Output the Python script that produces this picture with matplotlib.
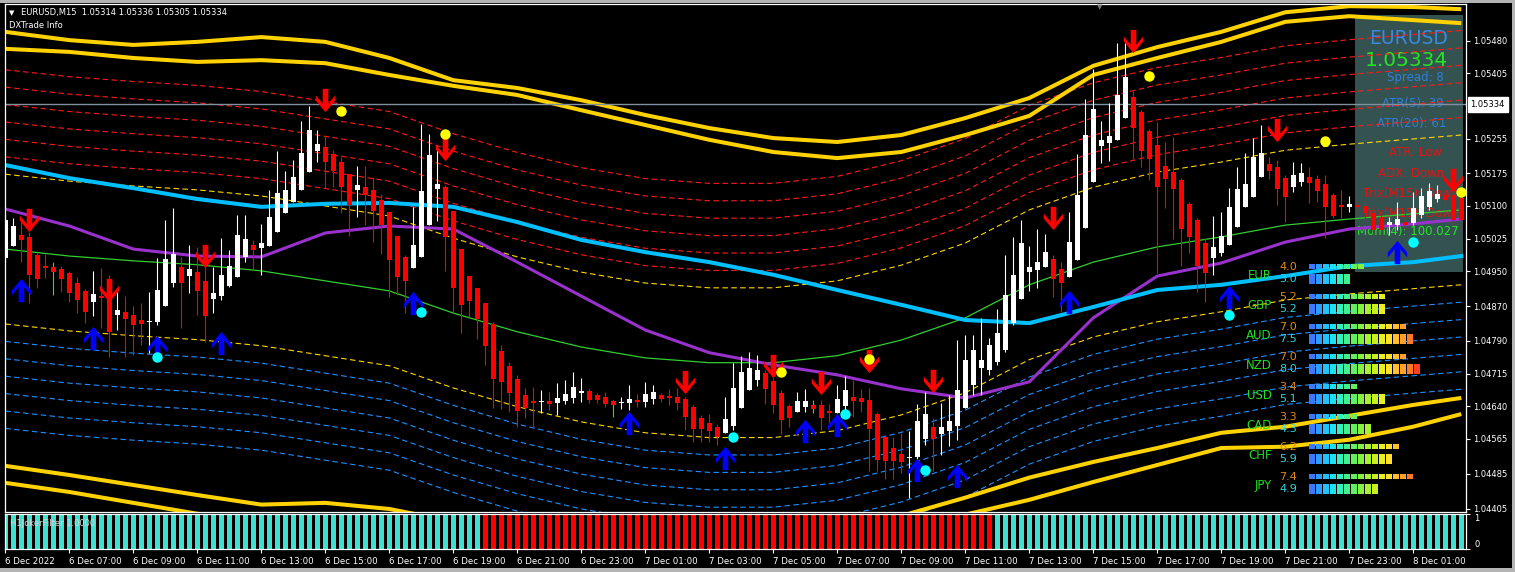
import math
import numpy as np
import matplotlib
matplotlib.use("Agg")
import matplotlib.pyplot as plt
from matplotlib.path import Path
from matplotlib.patches import Rectangle

# ------------------------------------------------------------------ data
opens = [
    1.04981, 1.05008, 1.05033, 1.05029, 1.04987, 1.04962, 1.04960, 1.04955, 1.04946, 1.04923,
    1.04905, 1.04880, 1.04893, 1.04932, 1.04850, 1.04857, 1.04850, 1.04838, 1.04834, 1.04834,
    1.04870, 1.04923, 1.04960, 1.04939, 1.04949, 1.04928, 1.04887, 1.04893, 1.04916, 1.04937,
    1.04983, 1.05010, 1.05004, 1.05008, 1.05040, 1.05084, 1.05109, 1.05137, 1.05178, 1.05226,
    1.05235, 1.05219, 1.05201, 1.05173, 1.05137, 1.05144, 1.05137, 1.05114, 1.05086, 1.05031,
    1.04983, 1.04958, 1.04983, 1.05056, 1.05139, 1.05144, 1.05088, 1.05001, 1.04939, 1.04912,
    1.04877, 1.04829, 1.04767, 1.04733, 1.04703, 1.04666, 1.04652, 1.04650, 1.04652, 1.04648,
    1.04652, 1.04659, 1.04671, 1.04675, 1.04666, 1.04662, 1.04652, 1.04648, 1.04648, 1.04655,
    1.04650, 1.04657, 1.04666, 1.04664, 1.04662, 1.04657, 1.04639, 1.04613, 1.04602, 1.04593,
    1.04579, 1.04595, 1.04636, 1.04678, 1.04701, 1.04717, 1.04698, 1.04671, 1.04641, 1.04627,
    1.04639, 1.04643, 1.04643, 1.04629, 1.04625, 1.04641, 1.04662, 1.04659, 1.04655, 1.04622,
    1.04570, 1.04544, 1.04531, 1.04521, 1.04524, 1.04565, 1.04593, 1.04577, 1.04583, 1.04595,
    1.04636, 1.04689, 1.04728, 1.04724, 1.04742, 1.04769, 1.04831, 1.04887, 1.04949, 1.04953,
    1.04960, 1.04978, 1.04955, 1.04937, 1.04976, 1.05049, 1.05155, 1.05238, 1.05245, 1.05252,
    1.05302, 1.05350, 1.05316, 1.05272, 1.05240, 1.05192, 1.05178, 1.05160, 1.05105, 1.05068,
    1.05015, 1.04981, 1.04992, 1.05010, 1.05052, 1.05098, 1.05121, 1.05167, 1.05196, 1.05190,
    1.05164, 1.05144, 1.05155, 1.05167, 1.05162, 1.05150, 1.05125, 1.05102, 1.05098, 1.05102,
    1.05100, 1.05084, 1.05075, 1.05056, 1.05056, 1.05063, 1.05061, 1.05079, 1.05098, 1.05116,
    1.05125, 1.05125, 1.05118,
]
highs = [
    1.05084, 1.05072, 1.05072, 1.05040, 1.04992, 1.04990, 1.04971, 1.04962, 1.04951, 1.04937,
    1.04910, 1.04951, 1.04958, 1.04942, 1.04903, 1.04893, 1.04870, 1.04877, 1.04903, 1.04981,
    1.05068, 1.05095, 1.04983, 1.05010, 1.05006, 1.04965, 1.04960, 1.05027, 1.04999, 1.05079,
    1.05079, 1.05022, 1.05059, 1.05137, 1.05226, 1.05180, 1.05206, 1.05295, 1.05330, 1.05274,
    1.05261, 1.05229, 1.05212, 1.05173, 1.05192, 1.05192, 1.05167, 1.05128, 1.05086, 1.05031,
    1.04987, 1.05098, 1.05288, 1.05265, 1.05238, 1.05148, 1.05088, 1.05001, 1.04939, 1.04912,
    1.04877, 1.04834, 1.04781, 1.04742, 1.04712, 1.04682, 1.04684, 1.04678, 1.04673, 1.04694,
    1.04701, 1.04719, 1.04705, 1.04680, 1.04671, 1.04673, 1.04655, 1.04662, 1.04689, 1.04668,
    1.04696, 1.04689, 1.04671, 1.04680, 1.04682, 1.04662, 1.04643, 1.04620, 1.04622, 1.04600,
    1.04662, 1.04740, 1.04756, 1.04765, 1.04758, 1.04724, 1.04705, 1.04678, 1.04645, 1.04673,
    1.04680, 1.04655, 1.04655, 1.04645, 1.04689, 1.04710, 1.04701, 1.04680, 1.04682, 1.04627,
    1.04574, 1.04570, 1.04579, 1.04583, 1.04645, 1.04673, 1.04613, 1.04648, 1.04666, 1.04792,
    1.04804, 1.04804, 1.04843, 1.04797, 1.04864, 1.04987, 1.05029, 1.05068, 1.05008, 1.05047,
    1.05036, 1.04987, 1.04971, 1.05086, 1.05219, 1.05346, 1.05415, 1.05295, 1.05337, 1.05474,
    1.05474, 1.05364, 1.05320, 1.05277, 1.05293, 1.05247, 1.05258, 1.05164, 1.05109, 1.05072,
    1.05027, 1.05077, 1.05086, 1.05141, 1.05190, 1.05222, 1.05256, 1.05286, 1.05212, 1.05206,
    1.05171, 1.05201, 1.05199, 1.05190, 1.05171, 1.05171, 1.05130, 1.05137, 1.05123, 1.05114,
    1.05114, 1.05100, 1.05091, 1.05075, 1.05109, 1.05091, 1.05132, 1.05141, 1.05153, 1.05148,
    1.05137, 1.05137, 1.05125,
]
lows = [
    1.04971, 1.05008, 1.04971, 1.04877, 1.04912, 1.04935, 1.04896, 1.04903, 1.04880, 1.04854,
    1.04831, 1.04847, 1.04820, 1.04753, 1.04815, 1.04753, 1.04758, 1.04781, 1.04763, 1.04827,
    1.04870, 1.04914, 1.04820, 1.04900, 1.04850, 1.04788, 1.04854, 1.04884, 1.04914, 1.04937,
    1.04971, 1.04953, 1.04942, 1.05008, 1.05040, 1.05084, 1.05109, 1.05137, 1.05178, 1.05201,
    1.05141, 1.05144, 1.05084, 1.05031, 1.05075, 1.05056, 1.05017, 1.04990, 1.04891, 1.04896,
    1.04854, 1.04958, 1.04983, 1.05056, 1.05066, 1.04951, 1.04857, 1.04808, 1.04845, 1.04795,
    1.04735, 1.04636, 1.04634, 1.04627, 1.04593, 1.04613, 1.04593, 1.04625, 1.04632, 1.04620,
    1.04645, 1.04648, 1.04650, 1.04648, 1.04648, 1.04639, 1.04616, 1.04634, 1.04632, 1.04639,
    1.04639, 1.04645, 1.04650, 1.04643, 1.04632, 1.04586, 1.04558, 1.04558, 1.04558, 1.04551,
    1.04579, 1.04586, 1.04636, 1.04678, 1.04687, 1.04645, 1.04625, 1.04577, 1.04593, 1.04627,
    1.04627, 1.04625, 1.04586, 1.04602, 1.04625, 1.04632, 1.04616, 1.04627, 1.04492, 1.04492,
    1.04473, 1.04473, 1.04487, 1.04430, 1.04494, 1.04551, 1.04492, 1.04528, 1.04549, 1.04563,
    1.04636, 1.04666, 1.04666, 1.04712, 1.04735, 1.04765, 1.04827, 1.04887, 1.04905, 1.04912,
    1.04960, 1.04891, 1.04857, 1.04937, 1.04976, 1.05049, 1.05155, 1.05199, 1.05203, 1.05252,
    1.05302, 1.05208, 1.05190, 1.05160, 1.04946, 1.05095, 1.05024, 1.04962, 1.04992, 1.04903,
    1.04880, 1.04942, 1.04985, 1.05010, 1.05052, 1.05098, 1.05121, 1.05167, 1.05162, 1.05102,
    1.05063, 1.05132, 1.05146, 1.05107, 1.05109, 1.05027, 1.05072, 1.05072, 1.05086, 1.05075,
    1.05068, 1.05033, 1.05033, 1.05033, 1.05045, 1.05045, 1.05056, 1.05072, 1.05091, 1.05109,
    1.05102, 1.05056, 1.05045,
]
closes = [
    1.05068, 1.05054, 1.05022, 1.04942, 1.04932, 1.04958, 1.04949, 1.04932, 1.04900, 1.04884,
    1.04857, 1.04898, 1.04889, 1.04811, 1.04861, 1.04841, 1.04827, 1.04829, 1.04836, 1.04907,
    1.04978, 1.04990, 1.04923, 1.04955, 1.04905, 1.04847, 1.04900, 1.04942, 1.04962, 1.05033,
    1.05024, 1.04999, 1.05015, 1.05075, 1.05130, 1.05137, 1.05167, 1.05222, 1.05274, 1.05242,
    1.05201, 1.05180, 1.05144, 1.05102, 1.05148, 1.05125, 1.05088, 1.05056, 1.04976, 1.04937,
    1.04928, 1.05010, 1.05134, 1.05217, 1.05150, 1.05029, 1.04912, 1.04873, 1.04882, 1.04841,
    1.04779, 1.04703, 1.04696, 1.04671, 1.04629, 1.04636, 1.04648, 1.04652, 1.04645, 1.04659,
    1.04668, 1.04684, 1.04675, 1.04655, 1.04655, 1.04645, 1.04643, 1.04650, 1.04657, 1.04650,
    1.04668, 1.04673, 1.04657, 1.04659, 1.04648, 1.04616, 1.04588, 1.04588, 1.04583, 1.04570,
    1.04611, 1.04682, 1.04719, 1.04728, 1.04724, 1.04680, 1.04643, 1.04609, 1.04613, 1.04652,
    1.04652, 1.04634, 1.04613, 1.04625, 1.04657, 1.04678, 1.04652, 1.04650, 1.04588, 1.04517,
    1.04515, 1.04515, 1.04512, 1.04524, 1.04606, 1.04622, 1.04565, 1.04593, 1.04606, 1.04678,
    1.04746, 1.04769, 1.04746, 1.04781, 1.04808, 1.04896, 1.04942, 1.05015, 1.04960, 1.04971,
    1.04994, 1.04932, 1.04923, 1.05017, 1.05125, 1.05263, 1.05323, 1.05252, 1.05261, 1.05355,
    1.05396, 1.05279, 1.05226, 1.05208, 1.05144, 1.05162, 1.05139, 1.05047, 1.05029, 1.04962,
    1.04946, 1.05006, 1.05031, 1.05098, 1.05139, 1.05150, 1.05212, 1.05222, 1.05180, 1.05139,
    1.05121, 1.05171, 1.05176, 1.05153, 1.05134, 1.05098, 1.05077, 1.05098, 1.05105, 1.05098,
    1.05084, 1.05045, 1.05045, 1.05063, 1.05070, 1.05056, 1.05095, 1.05123, 1.05134, 1.05128,
    1.05114, 1.05068, 1.05068,
]
lime_wick_bars = [6, 76, 101]

# indicator lines, sampled at these bars
line_bars = [0, 8, 16, 24, 32, 40, 48, 56, 64, 72, 80, 88, 96, 104, 112, 120,
             128, 136, 144, 152, 160, 168, 176, 182]
green_ma = [1.05001, 1.04985, 1.04974, 1.04965, 1.04951, 1.04928, 1.04905, 1.04854,
            1.04811, 1.04776, 1.04751, 1.04740, 1.04740, 1.04756, 1.04792, 1.04843,
            1.04919, 1.04971, 1.05006, 1.05029, 1.05056, 1.05070, 1.05082, 1.05091]
cyan_ma = [1.05194, 1.05164, 1.05141, 1.05116, 1.05098, 1.05105, 1.05107, 1.05098,
           1.05063, 1.05022, 1.04994, 1.04971, 1.04942, 1.04907, 1.04873, 1.04838,
           1.04831, 1.04868, 1.04907, 1.04919, 1.04939, 1.04962, 1.04971, 1.04985]
purple_ma = [1.05093, 1.05054, 1.05001, 1.04985, 1.04983, 1.05038, 1.05054, 1.05047,
             1.04971, 1.04893, 1.04815, 1.04763, 1.04735, 1.04712, 1.04680, 1.04659,
             1.04696, 1.04843, 1.04939, 1.04969, 1.05017, 1.05047, 1.05059, 1.05070]
upper_outer = [1.05500, 1.05481, 1.05470, 1.05477, 1.05488, 1.05477, 1.05440, 1.05389,
               1.05371, 1.05343, 1.05309, 1.05279, 1.05256, 1.05247, 1.05263, 1.05302,
               1.05348, 1.05422, 1.05465, 1.05500, 1.05545, 1.05559, 1.05557, 1.05552]
upper_inner = [1.05461, 1.05454, 1.05440, 1.05431, 1.05435, 1.05428, 1.05401, 1.05376,
               1.05355, 1.05320, 1.05286, 1.05252, 1.05224, 1.05210, 1.05224, 1.05263,
               1.05307, 1.05401, 1.05440, 1.05477, 1.05523, 1.05536, 1.05527, 1.05520]
lower_inner = [1.04503, 1.04482, 1.04459, 1.04436, 1.04414, 1.04418, 1.04404, 1.04375,
               1.04345, 1.04315, 1.04292, 1.04276, 1.04283, 1.04315, 1.04388, 1.04430,
               1.04476, 1.04512, 1.04544, 1.04579, 1.04593, 1.04618, 1.04643, 1.04659]
lower_outer = [1.04464, 1.04443, 1.04418, 1.04393, 1.04370, 1.04345, 1.04317, 1.04294,
               1.04271, 1.04253, 1.04241, 1.04234, 1.04241, 1.04276, 1.04333, 1.04391,
               1.04425, 1.04466, 1.04505, 1.04544, 1.04547, 1.04563, 1.04593, 1.04622]
band_offsets = [0.00172, 0.00212, 0.00252, 0.00292, 0.00332, 0.00372, 0.00412]

sell_arrow_bars = [3, 13, 25, 40, 55, 85, 96, 102, 108, 116, 131, 141, 159, 181]
sell_arrow_prices = [1.05068, 1.04907, 1.04985, 1.05344, 1.05231, 1.04696, 1.04733,
                     1.04694, 1.04744, 1.04698, 1.05072, 1.05479, 1.05274, 1.05160]
buy_arrow_bars = [2, 11, 19, 27, 51, 78, 90, 100, 104, 114, 119, 133, 153, 174]
buy_arrow_prices = [1.04907, 1.04797, 1.04776, 1.04786, 1.04877, 1.04602, 1.04521,
                    1.04583, 1.04597, 1.04494, 1.04480, 1.04880, 1.04891, 1.04994]
yellow_dot_bars = [42, 55, 97, 108, 143, 165, 182]
yellow_dot_prices = [1.05318, 1.05265, 1.04719, 1.04749, 1.05399, 1.05249, 1.05132]
cyan_dot_bars = [19, 52, 91, 105, 115, 153, 176]
cyan_dot_prices = [1.04753, 1.04857, 1.04570, 1.04622, 1.04494, 1.04850, 1.05017]

current_price = 1.05334
price_ticks = [1.04405, 1.04485, 1.04565, 1.04640, 1.04715, 1.04790, 1.04870,
               1.04950, 1.05025, 1.05100, 1.05175, 1.05255, 1.05405, 1.05480]
time_tick_bars = list(range(0, 177, 8))
time_labels = ['6 Dec 2022', '6 Dec 07:00', '6 Dec 09:00', '6 Dec 11:00', '6 Dec 13:00',
               '6 Dec 15:00', '6 Dec 17:00', '6 Dec 19:00', '6 Dec 21:00', '6 Dec 23:00',
               '7 Dec 01:00', '7 Dec 03:00', '7 Dec 05:00', '7 Dec 07:00', '7 Dec 09:00',
               '7 Dec 11:00', '7 Dec 13:00', '7 Dec 15:00', '7 Dec 17:00', '7 Dec 19:00',
               '7 Dec 21:00', '7 Dec 23:00', '8 Dec 01:00']

joker_runs = [(60, 'up'), (64, 'down'), (59, 'up')]

currencies = ['EUR', 'GBP', 'AUD', 'NZD', 'USD', 'CAD', 'CHF', 'JPY']
strength_fast = [4.0, 5.2, 7.0, 7.0, 3.4, 3.3, 6.2, 7.4]
strength_slow = [3.0, 5.2, 7.5, 8.0, 5.1, 4.3, 5.9, 4.9]

info_lines = [
    ('EURUSD', '#3A8AE0', 13.5),
    ('1.05334', '#22E622', 14.5),
    ('Spread: 8', '#2F7FDA', 8.5),
    ('ATR(5): 39', '#2F7FDA', 8.5),
    ('ATR(20): 61', '#2F7FDA', 8.5),
    ('ATR: Low', '#E01414', 8.5),
    ('ADX: Down', '#E01414', 8.5),
    ('Trix(M15): Down', '#E01414', 8.5),
    ('Trix(M15): Down', '#E01414', 8.5),
    ('Mom(4): 100.027', '#22E622', 8.5),
]

# ------------------------------------------------------------------ layout helpers
W, H = 1515, 572
fig = plt.figure(figsize=(W / 100, H / 100), dpi=100, facecolor='black')


def box(x0, y0, x1, y1):
    return [x0 / W, 1 - y1 / H, (x1 - x0) / W, (y1 - y0) / H]


def fpt(x, y):
    return (x / W, 1 - y / H)


ax = fig.add_axes(box(5, 4, 1466, 512), facecolor='black')
ax2 = fig.add_axes(box(5, 514, 1466, 549), facecolor='black')

n = len(opens)
idx = np.arange(n)
o = np.array(opens); h = np.array(highs); l = np.array(lows); c = np.array(closes)
xlim = (-0.04, 182.59)

# ------------------------------------------------------------------ main chart
# info panel background (behind candles)
ax.add_patch(Rectangle(fpt(1355, 272), 108 / W, 257 / H, transform=fig.transFigure,
                       facecolor='#345250', edgecolor='none', zorder=0.5))
info_y = [38, 60, 78, 103, 123, 153, 173, 193, 213, 232]
info_x = [1409, 1406, 1415, 1413, 1412, 1415, 1411, 1411, 1411, 1408]
for (txt, col, fs), yy, xx in zip(info_lines, info_y, info_x):
    ax.text(*fpt(xx, yy), txt, transform=fig.transFigure, color=col, fontsize=fs,
            ha='center', va='center', zorder=1)

# bands
green_arr = np.array(green_ma)
for k, off in enumerate(band_offsets):
    up_col = '#FFD700' if k == 0 else '#FF1A1A'
    dn_col = '#FFD700' if k == 0 else '#1E90FF'
    ax.plot(line_bars, green_arr + off, color=up_col, lw=0.8, ls=(0, (5, 3)), zorder=2)
    ax.plot(line_bars, green_arr - off, color=dn_col, lw=0.8, ls=(0, (5, 3)), zorder=2)
for series in (upper_outer, upper_inner, lower_inner, lower_outer):
    ax.plot(line_bars, series, color='#FFD200', lw=2.9, solid_capstyle='butt', zorder=2)
ax.plot(line_bars, green_ma, color='#32CD32', lw=0.9, zorder=2)
ax.plot(line_bars, purple_ma, color='#9932CC', lw=2.2, zorder=2)
ax.plot(line_bars, cyan_ma, color='#00BFFF', lw=2.9, zorder=2)
ax.axhline(current_price, color='#8090A0', lw=1.0, zorder=2.5)

# candles
bull = c >= o
body_col = np.where(bull, '#FFFFFF', '#FF0000')
wick_col = body_col.copy()
for b in lime_wick_bars:
    wick_col[b] = '#00FF00'
ax.vlines(idx, l, h, colors=list(wick_col), lw=0.8, zorder=3)
body_lo = np.minimum(o, c)
body_h = np.maximum(np.abs(c - o), 0.00002)
ax.bar(idx, body_h, bottom=body_lo, width=0.6, color=list(body_col), lw=0, zorder=3.1)

# arrows
dn_verts = [(-0.29, 1.2), (0.29, 1.2), (0.29, -0.33), (1.0, 0.52), (1.0, 0.0),
            (0.0, -1.2), (-1.0, 0.0), (-1.0, 0.52), (-0.29, -0.33), (-0.29, 1.2)]
dn_path = Path(dn_verts, closed=True)
up_path = Path([(x, -y) for x, y in dn_verts], closed=True)
ax.plot(sell_arrow_bars, sell_arrow_prices, ls='none', marker=dn_path, ms=16.8,
        color='#FF0000', mec='none', zorder=4)
ax.plot(buy_arrow_bars, buy_arrow_prices, ls='none', marker=up_path, ms=16.8,
        color='#0000FF', mec='none', zorder=4)
ax.plot(yellow_dot_bars, yellow_dot_prices, ls='none', marker='o', ms=7.5,
        color='#FFFF00', mec='none', zorder=4.1)
ax.plot(cyan_dot_bars, cyan_dot_prices, ls='none', marker='o', ms=7.5,
        color='#00FFFF', mec='none', zorder=4.1)

ax.set_xlim(*xlim)
ax.set_ylim(1.04397, 1.05564)
ax.set_yticks(price_ticks)
ax.set_yticklabels([f'{v:.5f}' for v in price_ticks])
ax.tick_params(axis='y', left=False, labelleft=False, right=True, labelright=True,
               colors='white', labelsize=6, length=3, width=0.8, pad=2)
ax.tick_params(axis='x', bottom=False, labelbottom=False)
for s in ax.spines.values():
    s.set_color('white'); s.set_linewidth(0.9)

ax.annotate(f'{current_price:.5f}', xy=(1.0, current_price), xycoords=('axes fraction', 'data'),
            xytext=(3.2, 0), textcoords='offset points', ha='left', va='center',
            fontsize=6, color='black', annotation_clip=False, zorder=6,
            bbox=dict(boxstyle='square,pad=0.35', fc='white', ec='white'))

# ------------------------------------------------------------------ sub window
jcols = []
for cnt, state in joker_runs:
    jcols += ['#40E0D0' if state == 'up' else '#FF0000'] * cnt
ax2.bar(idx, np.ones(n), width=0.62, color=jcols, lw=0)
ax2.set_xlim(*xlim)
ax2.set_ylim(0, 1)
ax2.set_yticks([0, 1])
ax2.set_yticklabels(['0', '1'])
ax2.tick_params(axis='y', left=False, labelleft=False, right=True, labelright=True,
                colors='white', labelsize=6, length=3, width=0.8, pad=3)
ylab = ax2.get_yticklabels()
ylab[0].set_va('bottom'); ylab[1].set_va('top')
ax2.set_xticks(time_tick_bars)
ax2.set_xticklabels(time_labels)
ax2.tick_params(axis='x', colors='white', labelsize=6.2, length=3, width=0.8, pad=2.5)
for t in ax2.get_xticklabels():
    t.set_ha('left')
for s in ax2.spines.values():
    s.set_color('white'); s.set_linewidth(0.9)
ax2.text(0.0034, 0.74, 'H1JokerFilter 1.0000', transform=ax2.transAxes, color='#D8D8D8',
         fontsize=6, ha='left', va='center')

# ------------------------------------------------------------------ currency strength widget
seg_colors = ['#3A78FF', '#2E9CFF', '#22C2FF', '#1EE0EE', '#30F0C0', '#44F08C',
              '#62F060', '#86F040', '#A8F030', '#C8F020', '#E8F020', '#FFE030',
              '#FFC030', '#FFA030', '#FF7A20', '#FF4020']
sax = fig.add_axes(box(1309, 260, 1421, 495))
sax.set_xlim(0, 16)
sax.set_ylim(495, 260)
sax.axis('off')
sax.patch.set_alpha(0)
for r, (cur, vf, vs) in enumerate(zip(currencies, strength_fast, strength_slow)):
    yt = 264.3 + 30 * r
    yb = 274.0 + 30 * r
    nf = math.ceil(vf * 2 - 1e-9)
    ns = math.ceil(vs * 2 - 1e-9)
    sax.bar(np.arange(nf), 4.7, bottom=yt, width=6 / 7, align='edge',
            color=seg_colors[:nf], lw=0)
    sax.bar(np.arange(ns), 10.3, bottom=yb, width=6 / 7, align='edge',
            color=seg_colors[:ns], lw=0)
    sax.text(-4.29, yt + 2.4, f'{vf:.1f}', color='#E08A1E', fontsize=8,
             ha='left', va='center', clip_on=False)
    sax.text(-4.29, yb + 5.0, f'{vs:.1f}', color='#30D5E0', fontsize=8,
             ha='left', va='center', clip_on=False)
    sax.text(-5.29, 275.7 + 30 * r, cur, color='#22DD22', fontsize=8.5,
             ha='right', va='center', clip_on=False)

# ------------------------------------------------------------------ header texts & frame
fig.text(*fpt(12, 13), '\u25BC', color='white', fontsize=5, ha='center', va='center')
fig.text(*fpt(21, 13), 'EURUSD,M15  1.05314 1.05336 1.05305 1.05334', color='white',
         fontsize=6, ha='left', va='center')
fig.text(*fpt(9, 25.5), 'DXTrade Info', color='white', fontsize=6, ha='left', va='center')
fig.text(*fpt(1100, 7), '\u25BC', color='#7A7A7A', fontsize=5, ha='center', va='center')

frame_col = '#B4B4B4'
fig.add_artist(Rectangle((0, 1 - 3 / H), 1, 3 / H, transform=fig.transFigure,
                         color=frame_col, lw=0))
fig.add_artist(Rectangle((0, 0), 1, 4 / H, transform=fig.transFigure, color=frame_col, lw=0))
fig.add_artist(Rectangle((1 - 3 / W, 0), 3 / W, 1, transform=fig.transFigure,
                         color=frame_col, lw=0))

fig.savefig('out.png', dpi=100, facecolor='black')
